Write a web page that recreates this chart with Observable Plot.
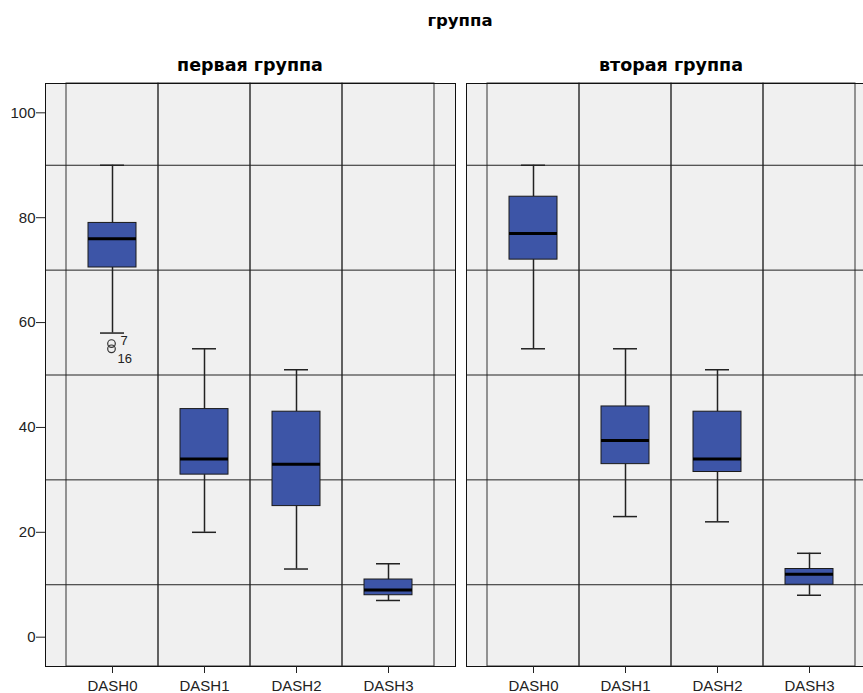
<!DOCTYPE html>
<html>
<head>
<meta charset="utf-8">
<script src="https://cdn.jsdelivr.net/npm/d3@7"></script>
<script src="https://cdn.jsdelivr.net/npm/@observablehq/plot@0.6"></script>
<style>
  html, body { margin: 0; padding: 0; background: #fff; overflow: hidden; }
  #wrap { position: relative; width: 863px; height: 693px; overflow: hidden; background: #fff; }
  .ttl { position: absolute; font-family: "DejaVu Sans", sans-serif; font-weight: bold; color: #000; white-space: nowrap; transform: translateX(-50%); }
  .panel { position: absolute; top: 0; }
</style>
</head>
<body>
<div id="wrap"></div>
<script>
// ---- data ----
const chartTitle = "группа";
const groups = ["первая группа", "вторая группа"];
const categories = ["DASH0", "DASH1", "DASH2", "DASH3"];
const yTicks = [0, 20, 40, 60, 80, 100];
const yGrid = [10, 30, 50, 70, 90];

const g1Low    = [58, 20, 13, 7];
const g1Q1     = [70.5, 31, 25, 8];
const g1Median = [76, 34, 33, 9];
const g1Q3     = [79, 43.5, 43, 11];
const g1High   = [90, 55, 51, 14];

const g2Low    = [55, 23, 22, 8];
const g2Q1     = [72, 33, 31.5, 10];
const g2Median = [77, 37.5, 34, 12];
const g2Q3     = [84, 44, 43, 13];
const g2High   = [90, 55, 51, 16];

const g1OutlierCat   = ["DASH0", "DASH0"];
const g1OutlierValue = [56, 55];
const g1OutlierLabel = ["7", "16"];

// ---- build tables ----
function stats(low, q1, med, q3, high) {
  return categories.map((c, i) => ({cat: c, low: low[i], q1: q1[i], med: med[i], q3: q3[i], high: high[i]}));
}
const data1 = stats(g1Low, g1Q1, g1Median, g1Q3, g1High);
const data2 = stats(g2Low, g2Q1, g2Median, g2Q3, g2High);
const outliers1 = g1OutlierCat.map((c, i) => ({cat: c, value: g1OutlierValue[i], label: g1OutlierLabel[i]}));

const boxFill = "#3d55a7";
const lineCol = "#222";
const gridCol = "#333";
const FONT = "Liberation Sans, Arial, sans-serif";

function panel(data, outliers, showY, width, marginLeft) {
  const marks = [
    Plot.frame({fill: "#f0f0f0", stroke: null}),
    Plot.cell(categories, {x: d => d, fill: "none", stroke: gridCol, strokeWidth: 1, inset: 0}),
    Plot.ruleY(yGrid, {stroke: lineCol, strokeWidth: 1}),
    Plot.ruleX(data, {x: "cat", y1: "low", y2: "q1", stroke: lineCol, strokeWidth: 1.5}),
    Plot.ruleX(data, {x: "cat", y1: "q3", y2: "high", stroke: lineCol, strokeWidth: 1.5}),
    Plot.tickY(data, {x: "cat", y: "low", inset: 34, stroke: lineCol, strokeWidth: 1.5}),
    Plot.tickY(data, {x: "cat", y: "high", inset: 34, stroke: lineCol, strokeWidth: 1.5}),
    Plot.barY(data, {x: "cat", y1: "q1", y2: "q3", fill: boxFill, stroke: "#1a1a1a", strokeWidth: 1, insetLeft: 22, insetRight: 22}),
    Plot.tickY(data, {x: "cat", y: "med", inset: 22, stroke: "#000", strokeWidth: 3}),
    Plot.frame({stroke: "#111", strokeWidth: 1}),
    Plot.axisX({tickSize: 7, tickPadding: 7, fontSize: 15, label: null, fontFamily: FONT})
  ];
  if (outliers) {
    marks.push(
      Plot.dot(outliers, {x: "cat", y: "value", r: 3.8, stroke: "#333", strokeWidth: 1.2, fill: "none", dx: -1}),
      Plot.text(outliers.slice(0, 1), {x: "cat", y: "value", text: "label", textAnchor: "start", lineAnchor: "bottom", dx: 8, dy: 1, fontSize: 13, fontFamily: FONT, fill: "#222"}),
      Plot.text(outliers.slice(1), {x: "cat", y: "value", text: "label", textAnchor: "start", lineAnchor: "bottom", dx: 5, dy: 14, fontSize: 13, fontFamily: FONT, fill: "#222"})
    );
  }
  if (showY) {
    marks.push(Plot.axisY({ticks: yTicks, tickSize: 9, tickPadding: 1, fontSize: 15, label: null, fontFamily: FONT}));
  }
  return Plot.plot({
    width, height: 693,
    marginLeft, marginRight: 1, marginTop: 83, marginBottom: 27,
    style: {background: "transparent", fontFamily: FONT, color: "#222", overflow: "visible"},
    x: {type: "band", domain: categories, paddingInner: 0, paddingOuter: 0.228, align: 0.5, axis: null},
    y: {domain: [-5.59, 105.59], axis: null},
    marks
  });
}

const wrap = document.getElementById("wrap");
const p1 = panel(data1, outliers1, true, 456, 45);
p1.classList.add("panel");
p1.style.left = "0px";
wrap.appendChild(p1);

const p2 = panel(data2, null, false, 412, 1);
p2.classList.add("panel");
p2.style.left = "465px";
wrap.appendChild(p2);

function addTitle(text, cx, top, size) {
  const d = document.createElement("div");
  d.className = "ttl";
  d.textContent = text;
  d.style.left = cx + "px";
  d.style.top = top + "px";
  d.style.fontSize = size + "px";
  wrap.appendChild(d);
}
addTitle(chartTitle, 460, 11, 16.5);
addTitle(groups[0], 250, 55, 17.5);
addTitle(groups[1], 671, 55, 17.5);
</script>
</body>
</html>
